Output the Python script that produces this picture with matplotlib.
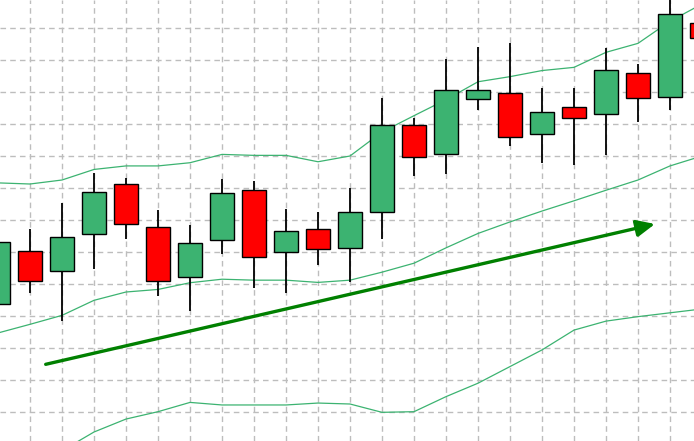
import matplotlib
matplotlib.use('Agg')
import matplotlib.pyplot as plt
from matplotlib.ticker import MultipleLocator

# candle data (index positions on the grid, prices in arbitrary units)
idx = list(range(23))
opens = [43.75, 60.2, 54.0, 65.5, 81.2, 67.7, 52.1, 63.7, 79.3, 60.1, 67.1, 61.2,
         72.5, 99.6, 90.5, 107.7, 109.6, 96.8, 105.2, 103.0, 115.8, 108.3, 131.5]
highs = [65.3, 67.2, 75.4, 84.7, 83.0, 73.1, 68.4, 82.7, 82.2, 73.4, 72.5, 79.9,
         108.0, 102.0, 120.2, 124.1, 125.3, 111.2, 111.2, 123.7, 118.75, 140.3, 135.6]
lows = [41.25, 47.3, 38.5, 54.7, 64.1, 46.25, 41.7, 59.5, 48.75, 47.3, 55.9, 50.5,
        64.1, 83.8, 84.4, 104.5, 93.2, 87.9, 87.3, 90.3, 100.7, 104.3, 123.1]
closes = [63.1, 50.8, 64.6, 78.7, 68.7, 50.8, 62.7, 78.3, 58.3, 66.5, 60.8, 72.4,
          99.6, 89.6, 110.5, 110.5, 95.8, 103.7, 101.8, 116.8, 108.0, 134.3, 126.8]

# Bollinger bands
upper = [81.6, 81.25, 82.5, 85.8, 86.9, 86.9, 87.9, 90.5, 90.2, 90.2, 88.2, 90.0,
         97.5, 102.6, 107.6, 113.2, 114.8, 116.7, 117.7, 122.4, 125.2, 132.1, 137.5]
middle = [34.7, 37.4, 40.2, 44.9, 47.5, 48.3, 50.4, 51.5, 51.2, 51.2, 50.5, 51.2,
          53.7, 56.5, 61.3, 65.8, 69.4, 72.8, 76.0, 79.3, 82.5, 86.9, 90.0]
lower = [-12.2, -6.4, -2.1, 3.75, 7.8, 10.1, 13.0, 12.2, 12.2, 12.2, 12.8, 12.5,
         9.9, 10.1, 14.8, 19.0, 24.2, 29.4, 35.6, 38.4, 39.8, 41.0, 42.2]

# trend arrow (start, end)
arrow_start = (1.49, 24.9)
arrow_end = (20.53, 68.75)

fig = plt.figure(figsize=(6.94, 4.41), dpi=100)
ax = fig.add_axes([0, 0, 1, 1])

band_color = '#3CB371'
for band in (upper, middle, lower):
    ax.plot(idx, band, color=band_color, lw=0.9, zorder=2)

ax.vlines(idx, lows, highs, color='black', lw=1.3, zorder=3)
colors = ['#3CB371' if c >= o else '#FF0000' for o, c in zip(opens, closes)]
ax.bar(idx, [c - o for o, c in zip(opens, closes)], bottom=opens, width=0.74,
       color=colors, edgecolor='black', linewidth=1.0, zorder=4)

ax.annotate('', xy=arrow_end, xytext=arrow_start,
            arrowprops=dict(arrowstyle='-|>,head_length=0.55,head_width=0.25',
                            mutation_scale=20, lw=2.4, color='#008000',
                            shrinkA=0, shrinkB=0),
            zorder=5)

ax.set_xlim(0.0625, 21.75)
ax.set_ylim(0.94, 138.75)
ax.xaxis.set_major_locator(MultipleLocator(1))
ax.yaxis.set_major_locator(MultipleLocator(10))
ax.grid(True, color='#BDBDBD', linestyle=(0, (4, 3)), lw=1.0)
ax.set_axisbelow(True)
ax.tick_params(left=False, bottom=False, labelleft=False, labelbottom=False)
for s in ax.spines.values():
    s.set_visible(False)

fig.savefig('out.png', dpi=100)
